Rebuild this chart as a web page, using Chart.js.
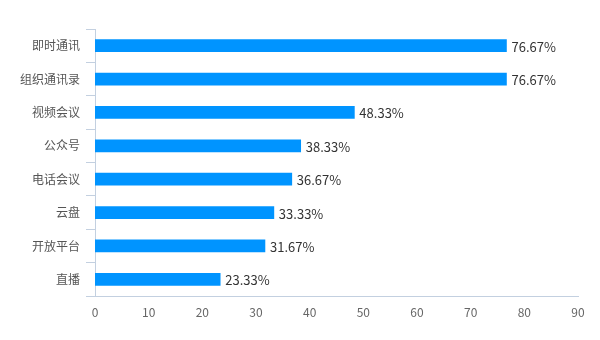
<!DOCTYPE html>
<html>
<head>
<meta charset="utf-8">
<script src="https://cdn.jsdelivr.net/npm/chart.js@4/dist/chart.umd.min.js"></script>
<style>
  html, body { margin: 0; padding: 0; background: #fff; }
  #wrap { width: 600px; height: 340px; }
</style>
</head>
<body>
<div id="wrap"><canvas id="c" width="600" height="340"></canvas></div>
<script>
// Feature usage share (%)
const categories = ['即时通讯', '组织通讯录', '视频会议', '公众号', '电话会议', '云盘', '开放平台', '直播'];
const shares = [76.67, 76.67, 48.33, 38.33, 36.67, 33.33, 31.67, 23.33];
const xTicks = [0, 10, 20, 30, 40, 50, 60, 70, 80, 90];

const FONT = '"Noto Sans CJK SC", "Microsoft YaHei", sans-serif';
const AXIS_COLOR = '#c3d0e0';

// Writes the percentage just past the end of each bar
const valueLabels = {
  id: 'valueLabels',
  afterDatasetsDraw(chart) {
    const ctx = chart.ctx;
    ctx.save();
    ctx.font = '13px ' + FONT;
    ctx.fillStyle = '#333';
    ctx.textAlign = 'left';
    ctx.textBaseline = 'middle';
    chart.getDatasetMeta(0).data.forEach((bar, i) => {
      ctx.fillText(shares[i].toFixed(2) + '%', bar.x + 5, bar.y + 1);
    });
    ctx.restore();
  }
};

new Chart(document.getElementById('c'), {
  type: 'bar',
  data: {
    labels: categories,
    datasets: [{
      data: shares,
      backgroundColor: '#0094ff',
      barThickness: 12
    }]
  },
  options: {
    indexAxis: 'y',
    responsive: false,
    animation: false,
    layout: { padding: { top: 29, right: 22, bottom: 14, left: 0 } },
    plugins: {
      legend: { display: false },
      tooltip: { enabled: false }
    },
    scales: {
      x: {
        min: 0,
        max: 90,
        afterBuildTicks(scale) { scale.ticks = xTicks.map(v => ({ value: v })); },
        afterFit(scale) { scale.height = 30; },
        grid: { display: false },
        border: { display: true, color: AXIS_COLOR, width: 1 },
        ticks: { color: '#666', padding: 1, font: { family: FONT, size: 12 } }
      },
      y: {
        offset: true,
        afterFit(scale) { scale.width = 95; },
        grid: {
          display: true,
          offset: true,
          drawOnChartArea: false,
          drawTicks: true,
          tickLength: 9,
          color: AXIS_COLOR
        },
        border: { display: true, color: AXIS_COLOR, width: 1 },
        ticks: { color: '#555', padding: 6, font: { family: FONT, size: 12 } }
      }
    }
  },
  plugins: [valueLabels]
});
</script>
</body>
</html>
